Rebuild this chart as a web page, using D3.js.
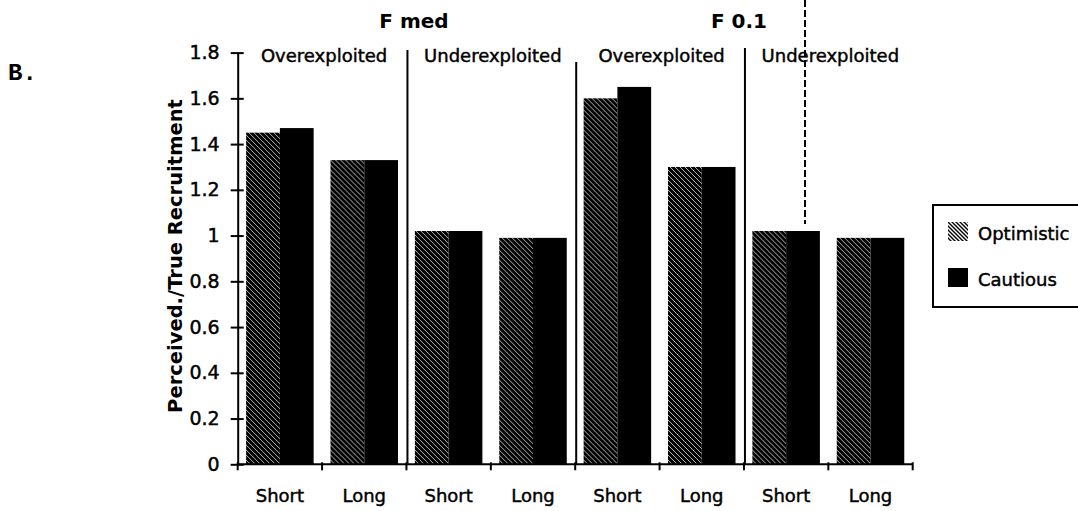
<!DOCTYPE html>
<html>
<head>
<meta charset="utf-8">
<script src="https://cdn.jsdelivr.net/npm/d3@7"></script>
<style>
  html, body { margin: 0; padding: 0; background: #fff; }
  svg { display: block; }
  text { font-family: "DejaVu Sans", sans-serif; fill: #000; }
  text.heavy { stroke: #000; stroke-width: 0.45px; }
</style>
</head>
<body>
<svg id="chart" width="1078" height="511"></svg>
<script>
// Perceived / true recruitment by projection horizon, stock status and target F
const categories = ["Short", "Long", "Short", "Long", "Short", "Long", "Short", "Long"];
const optimistic = [1.45, 1.33, 1.02, 0.99, 1.60, 1.30, 1.02, 0.99];
const cautious   = [1.47, 1.33, 1.02, 0.99, 1.65, 1.30, 1.02, 0.99];
const series = ["Optimistic", "Cautious"];
const sections = ["Overexploited", "Underexploited", "Overexploited", "Underexploited"];
const targets = ["F med", "F 0.1"];
const yTickValues = [0, 0.2, 0.4, 0.6, 0.8, 1, 1.2, 1.4, 1.6, 1.8];
const yTickLabels = ["0", "0.2", "0.4", "0.6", "0.8", "1", "1.2", "1.4", "1.6", "1.8"];

const svg = d3.select("#chart");
const plotLeft = 237.7, plotRight = 912.7, plotBottom = 464.3, plotTop = 52.6;

const defs = svg.append("defs");
function hatch(id, size, w) {
  const p = defs.append("pattern").attr("id", id)
    .attr("patternUnits", "userSpaceOnUse").attr("width", size).attr("height", size);
  p.append("rect").attr("width", size).attr("height", size).attr("fill", "#000");
  p.append("path")
    .attr("d", `M-1,-1L${size + 1},${size + 1}M${size - 1},-1L${size + 1},1M-1,${size - 1}L1,${size + 1}`)
    .attr("stroke", "#fff").attr("stroke-width", w);
}
hatch("hatchBar", 5, 0.7);
hatch("hatchKey", 4, 1.4);
const fills = { Optimistic: "url(#hatchBar)", Cautious: "#000" };

const x = d3.scaleBand().domain(d3.range(categories.length))
  .range([plotLeft, plotRight]).paddingInner(0.2).paddingOuter(0.1);
const xs = d3.scaleBand().domain(series).range([0, x.bandwidth()]).padding(0);
const y = d3.scaleLinear().domain([0, 1.8]).range([plotBottom, plotTop]);
const step = x.step();
const boundary = i => plotLeft + i * step;

// bars
const rows = categories.map((c, i) => ({ i, Optimistic: optimistic[i], Cautious: cautious[i] }));
const g = svg.append("g");
g.selectAll("g.cat").data(rows).join("g").attr("class", "cat")
  .attr("transform", d => `translate(${x(d.i)},0)`)
  .selectAll("rect").data(d => series.map(s => ({ s, v: d[s] }))).join("rect")
  .attr("x", d => xs(d.s)).attr("width", xs.bandwidth())
  .attr("y", d => y(d.v)).attr("height", d => y(0) - y(d.v))
  .attr("fill", d => fills[d.s]);

// y axis
const yAxis = svg.append("g").attr("transform", `translate(${plotLeft},0)`)
  .call(d3.axisLeft(y).tickValues(yTickValues).tickFormat((d, i) => yTickLabels[i])
    .tickSizeInner(7).tickSizeOuter(0).tickPadding(11));
yAxis.select(".domain").attr("stroke-width", 2);
yAxis.selectAll(".tick line").attr("x1", 6).attr("stroke-width", 2);
yAxis.selectAll(".tick text").attr("class", "heavy")
  .attr("font-size", 19).attr("font-family", "DejaVu Sans");

// x axis baseline with boundary ticks
svg.append("line").attr("x1", plotLeft).attr("x2", plotRight).attr("y1", plotBottom).attr("y2", plotBottom)
  .attr("stroke", "#000").attr("stroke-width", 2);
svg.selectAll("line.xt").data(d3.range(categories.length + 1)).join("line").attr("class", "xt")
  .attr("x1", boundary).attr("x2", boundary).attr("y1", plotBottom - 2).attr("y2", plotBottom + 6)
  .attr("stroke", "#000").attr("stroke-width", 2);
svg.selectAll("text.xl").data(categories).join("text").attr("class", "xl heavy")
  .attr("x", (d, i) => x(i) + x.bandwidth() / 2).attr("y", 502)
  .attr("text-anchor", "middle").attr("font-size", 18).text(d => d);

// section separators
const sepTops = [50, 62, 48];
svg.selectAll("line.sep").data([2, 4, 6]).join("line").attr("class", "sep")
  .attr("x1", d => boundary(d) + 1).attr("x2", d => boundary(d) + 1)
  .attr("y1", (d, i) => sepTops[i]).attr("y2", plotBottom)
  .attr("stroke", "#000").attr("stroke-width", 2);

// section and target headings
svg.selectAll("text.sec").data(sections).join("text").attr("class", "sec heavy")
  .attr("x", (d, i) => boundary(i * 2) + step + 2).attr("y", 62)
  .attr("text-anchor", "middle").attr("font-size", 18).text(d => d);
svg.selectAll("text.tgt").data(targets).join("text").attr("class", "tgt")
  .attr("x", (d, i) => [414, 739][i]).attr("y", 28)
  .attr("text-anchor", "middle").attr("font-size", 20).attr("font-weight", "bold").text(d => d);

// dashed guide
svg.append("line").attr("x1", 805).attr("x2", 805).attr("y1", 0).attr("y2", 224)
  .attr("stroke", "#000").attr("stroke-width", 2).attr("stroke-dasharray", "7,3");

// y axis title
svg.append("text").attr("transform", "translate(182,256) rotate(-90)")
  .attr("text-anchor", "middle").attr("font-size", 19.5).attr("font-weight", "bold")
  .text("Perceived./True Recruitment");

// panel label
svg.append("text").attr("x", 8).attr("y", 80)
  .style("font-family", "'Liberation Mono', monospace").attr("font-size", 24)
  .attr("font-weight", "bold").text("B.");

// legend
const lg = svg.append("g");
lg.append("rect").attr("x", 933).attr("y", 205).attr("width", 160).attr("height", 102)
  .attr("fill", "#fff").attr("stroke", "#000").attr("stroke-width", 2);
const keyFill = { Optimistic: "url(#hatchKey)", Cautious: "#000" };
const ky = [222, 268];
lg.selectAll("rect.key").data(series).join("rect").attr("class", "key")
  .attr("x", 948).attr("y", (d, i) => ky[i]).attr("width", 20).attr("height", 19)
  .attr("fill", d => keyFill[d]);
lg.selectAll("text.key").data(series).join("text").attr("class", "key heavy")
  .attr("x", 978).attr("y", (d, i) => ky[i] + 18).attr("font-size", 18).text(d => d);
</script>
</body>
</html>
